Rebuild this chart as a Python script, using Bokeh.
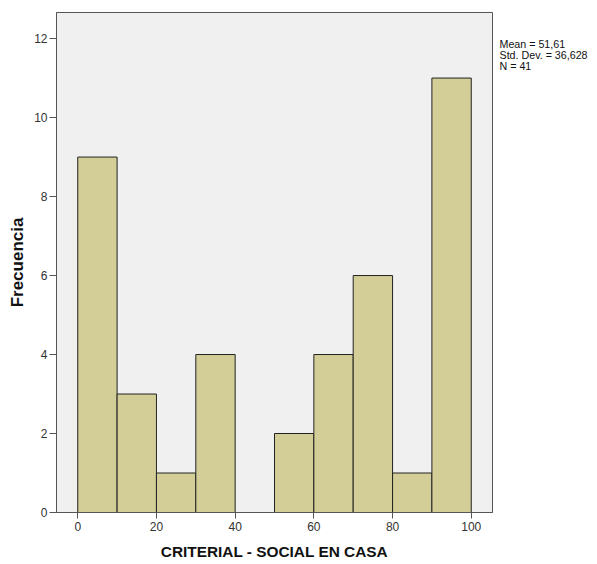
from bokeh.plotting import figure
from bokeh.layouts import row
from bokeh.models import Range1d, FixedTicker
from bokeh.core.properties import value
from bokeh.embed import file_html
from bokeh.resources import INLINE

# Data
bin_left = [0, 10, 20, 30, 40, 50, 60, 70, 80, 90]
bin_right = [10, 20, 30, 40, 50, 60, 70, 80, 90, 100]
counts = [9, 3, 1, 4, 0, 2, 4, 6, 1, 11]
x_ticks = [0, 20, 40, 60, 80, 100]
y_ticks = [0, 2, 4, 6, 8, 10, 12]
stats_lines = ["Mean = 51,61", "Std. Dev. = 36,628", "N = 41"]

FONT = "Liberation Sans"
H = 564

p = figure(width=493, height=H, output_backend="svg", toolbar_location=None,
           x_range=Range1d(-5.4, 105.4), y_range=Range1d(0, 12.66),
           min_border_left=56, min_border_right=1, min_border_top=12, min_border_bottom=52)

p.background_fill_color = "#F0F0F0"
p.border_fill_color = "white"
p.outline_line_color = "#555555"
p.outline_line_width = 1
p.xgrid.visible = False
p.ygrid.visible = False

xs_l = [l for l, c in zip(bin_left, counts) if c > 0]
xs_r = [r for r, c in zip(bin_right, counts) if c > 0]
cs = [c for c in counts if c > 0]
p.quad(left=xs_l, right=xs_r, bottom=0, top=cs, fill_color="#D3CE97",
       line_color="#222222", line_width=1)

for ax in (p.xaxis[0], p.yaxis[0]):
    ax.major_tick_in = 0
    ax.minor_tick_out = 0
    ax.minor_tick_in = 0
    ax.axis_line_color = "#555555"
    ax.major_tick_line_color = "#555555"
    ax.major_label_text_font = FONT
    ax.major_label_text_font_size = "12px"
    ax.major_label_text_color = "#333333"
    ax.axis_label_text_font = FONT
    ax.axis_label_text_font_style = "bold"
    ax.axis_label_text_color = "#111111"

p.xaxis.ticker = FixedTicker(ticks=x_ticks)
p.yaxis.ticker = FixedTicker(ticks=y_ticks)
p.xaxis.major_tick_out = 6
p.yaxis.major_tick_out = 7
p.xaxis.axis_label = "CRITERIAL - SOCIAL EN CASA"
p.yaxis.axis_label = "Frecuencia"
p.xaxis.axis_label_text_font_size = "15.4px"
p.yaxis.axis_label_text_font_size = "17px"
p.xaxis.axis_label_standoff = 9
p.yaxis.axis_label_standoff = 4
p.xaxis.major_label_standoff = 3
p.yaxis.major_label_standoff = 2

# Side panel with summary statistics
s = figure(width=104, height=H, output_backend="svg", toolbar_location=None,
           x_range=Range1d(0, 104), y_range=Range1d(0, H),
           x_axis_type=None, y_axis_type=None,
           min_border_left=0, min_border_right=0, min_border_top=0, min_border_bottom=0)
s.outline_line_color = None
s.background_fill_color = "white"
s.border_fill_color = "white"
s.xgrid.visible = False
s.ygrid.visible = False
s.text(x=[6] * len(stats_lines), y=[H - 36 - 12 * i for i in range(len(stats_lines))],
       text=stats_lines, text_font=value(FONT), text_font_size="10.7px",
       text_color="#111111", text_baseline="middle", text_align="left")

layout = row(p, s, spacing=0)
open("out.html", "w").write(file_html(layout, INLINE))
